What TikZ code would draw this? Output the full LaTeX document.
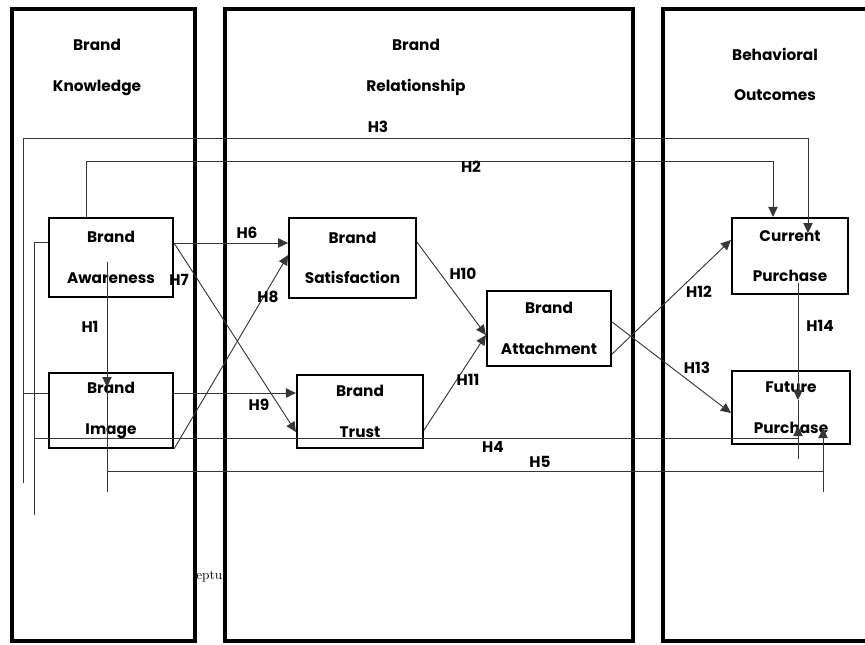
\documentclass[tikz,border=0pt]{standalone}
\usepackage{fontspec}
\setsansfont{Poppins}
\usetikzlibrary{arrows.meta, positioning, calc}
\definecolor{linecolor}{RGB}{55, 55, 55}

\begin{document}
\begin{tikzpicture}[
    x=0.75pt, y=-0.75pt,
    >={Triangle[length=7.5pt, width=7pt]},
    panel/.style={draw, line width=2.5pt},
    title/.style={align=center, font=\sffamily\bfseries\fontsize{11.5}{30.5}\selectfont},
    box/.style={rectangle, draw, line width=1.6pt, align=center, inner sep=0pt, font=\sffamily\bfseries\fontsize{11.5}{30.5}\selectfont},
    arrow/.style={->, line width=0.7pt, draw=linecolor},
    wire/.style={line width=0.7pt, draw=linecolor},
    hlabel/.style={inner sep=0pt, font=\sffamily\bfseries\fontsize{11.5}{13}\selectfont}
]
\useasboundingbox (0,0) rectangle (865,644);

% Panels
\draw[panel] (12,9) rectangle (195,641);
\draw[panel] (225,9) rectangle (633,641);
\draw[panel] (663,9) rectangle (880,641);

\node[title] (knowTitle) at (97,67.5) {Brand\\Knowledge};
\node[title] (relTitle) at (416,67.5) {Brand\\Relationship};
\node[title] (outTitle) at (775,74.5) {Behavioral\\Outcomes};

% Brand knowledge
\node[box, minimum width=93pt, minimum height=59pt] (aware) at (111,257.5) {Brand\\Awareness};
\node[box, minimum width=93pt, minimum height=56pt] (image) at (111,410.5) {Brand\\Image};

% Brand relationship
\node[box, minimum width=95pt, minimum height=60pt] (satis) at (352.5,258) {Brand\\Satisfaction};
\node[box, minimum width=94.5pt, minimum height=54.75pt] (trust) at (360,411.5) {Brand\\Trust};
\node[box, minimum width=93pt, minimum height=56pt] (attach) at (549,328.5) {Brand\\Attachment};

% Behavioral outcomes
\node[box, minimum width=87pt, minimum height=57pt] (current) at (790,256) {Current\\Purchase};
\node[box, minimum width=88.5pt, minimum height=54.75pt] (future) at (791,407.5) {Future\\Purchase};

% Bend points
\coordinate (h2a) at (86,161);
\coordinate (h2b) at (773,161);
\coordinate (h3a) at (23,393);
\coordinate (h3b) at (23,138);
\coordinate (h3c) at (808,138);
\coordinate (h3d) at (808,233);
\coordinate (h3end) at (23,483);
\coordinate (h4a) at (34,242);
\coordinate (h4b) at (34,438);
\coordinate (h4c) at (798,438);
\coordinate (h4d) at (798,426);
\coordinate (h4end) at (34,515);
\coordinate (h5a) at (107,387);
\coordinate (h5b) at (107,471);
\coordinate (h5c) at (823,471);
\coordinate (h5d) at (823,428);
\coordinate (h5end) at (107,492);
\coordinate (h5tail) at (823,492);
\coordinate (h1a) at (107,262);
\coordinate (h14a) at (798,283);
\coordinate (h14b) at (798,400);
\coordinate (h14end) at (798,459);

% Arrows - within knowledge
\draw[arrow] (h1a) -- (h5a);

% Arrows - knowledge to relationship
\draw[arrow] (aware.east |- 0,243) -- (satis.west |- 0,243);
\draw[arrow] (aware.east |- 0,243) -- (trust.west |- 0,432);
\draw[arrow] (image.south east) -- (satis.west |- 0,255);
\draw[arrow] (image.east |- 0,393) -- (trust.west |- 0,393);

% Arrows - relationship
\draw[arrow] (satis.east |- 0,242) -- (attach.west |- 0,335);
\draw[arrow] (trust.east |- 0,430) -- (attach.west |- 0,335);

% Arrows - to outcomes
\draw[arrow] (attach.east |- 0,354) -- (current.west |- 0,240);
\draw[arrow] (attach.east |- 0,322) -- (future.west |- 0,413);
\draw[arrow] (h14a) -- (h14b);
\draw[wire] (h14b) -- (h14end);

% Long paths
\draw[arrow] (aware.north -| h2a) -- (h2a) -- (h2b) -- (current.north -| h2b);
\draw[wire] (image.west |- h3a) -- (h3a);
\draw[wire] (h3end) -- (h3b);
\draw[arrow] (h3b) -- (h3c) -- (h3d);
\draw[wire] (aware.west |- h4a) -- (h4a) -- (h4end);
\draw[arrow] (h4b) -- (h4c) -- (h4d);
\draw[wire] (h5a) -- (h5end);
\draw[arrow] (h5b) -- (h5c) -- (h5d);
\draw[wire] (h5c) -- (h5tail);

% Labels
\node[hlabel] (l1) at (90,327) {H1};
\node[hlabel] (l2) at (471,167) {H2};
\node[hlabel] (l3) at (378,127) {H3};
\node[hlabel] (l4) at (493,447) {H4};
\node[hlabel] (l5) at (540,462) {H5};
\node[hlabel] (l6) at (247,233) {H6};
\node[hlabel] (l7) at (179,280) {H7};
\node[hlabel] (l8) at (268,297) {H8};
\node[hlabel] (l9) at (259,405) {H9};
\node[hlabel] (l10) at (463,274) {H10};
\node[hlabel] (l11) at (468,380) {H11};
\node[hlabel] (l12) at (699,292) {H12};
\node[hlabel] (l13) at (697,368) {H13};
\node[hlabel] (l14) at (820,326) {H14};

% Cut-off caption
\node[anchor=west, inner sep=0pt, font=\fontsize{10}{12}\selectfont] (caption) at (196,577) {eptu};

\end{tikzpicture}
\end{document}
